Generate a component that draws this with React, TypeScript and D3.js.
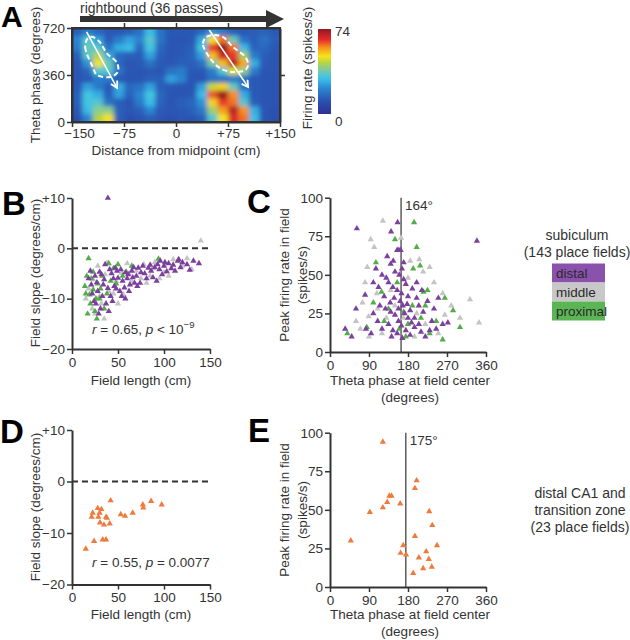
import React, { useRef, useEffect } from 'react';
import * as d3 from 'd3';

const W = 630;
const H = 640;
const FONT = '"Liberation Sans", Arial, Helvetica, sans-serif';
const INK = '#333';

// ---- Panel A: firing-rate map (rows from 690° down to 30°, 60° each; columns 15 cm each)
const heatColCenters = [-142.5, -127.5, -112.5, -97.5, -82.5, -67.5, -52.5, -37.5, -22.5, -7.5,
  7.5, 22.5, 37.5, 52.5, 67.5, 82.5, 97.5, 112.5, 127.5, 142.5];
const heatRowCenters = [690, 630, 570, 510, 450, 390, 330, 270, 210, 150, 90, 30];
const heatRows = [
  [14, 20, 16, 13, 13, 14, 18, 30, 18, 13, 13, 13, 16, 24, 20, 14, 13, 14, 15, 13],
  [22, 34, 26, 14, 20, 26, 22, 34, 18, 12, 12, 13, 28, 50, 60, 36, 18, 14, 18, 14],
  [20, 36, 34, 18, 28, 30, 16, 32, 16, 12, 13, 14, 32, 64, 74, 60, 30, 15, 16, 13],
  [14, 34, 44, 28, 16, 14, 14, 26, 14, 12, 13, 15, 26, 54, 68, 64, 42, 20, 14, 12],
  [12, 24, 50, 36, 16, 12, 13, 18, 13, 12, 14, 14, 18, 38, 54, 70, 56, 28, 13, 12],
  [12, 16, 34, 34, 18, 12, 12, 13, 12, 18, 20, 13, 13, 20, 34, 48, 40, 20, 12, 12],
  [12, 13, 20, 20, 13, 12, 12, 14, 14, 26, 22, 12, 12, 18, 18, 20, 18, 13, 12, 12],
  [13, 26, 20, 13, 28, 16, 18, 26, 14, 13, 12, 12, 26, 46, 52, 36, 18, 13, 12, 12],
  [14, 32, 28, 14, 26, 15, 22, 32, 16, 12, 12, 13, 30, 62, 74, 58, 28, 13, 12, 12],
  [14, 32, 34, 18, 14, 12, 20, 30, 15, 12, 14, 16, 24, 52, 64, 60, 34, 14, 12, 12],
  [12, 30, 40, 40, 14, 12, 14, 22, 13, 12, 13, 14, 20, 42, 57, 70, 58, 28, 12, 11],
  [11, 22, 44, 50, 14, 11, 12, 14, 12, 11, 12, 12, 14, 34, 50, 66, 60, 30, 12, 11],
];
const heatMax = 74;
const heatStops = [0, 0.15, 0.3, 0.42, 0.52, 0.6, 0.68, 0.78, 0.88, 1];
const heatColors = ['#2e3192', '#2a50b0', '#2a86d2', '#3cc3ea', '#7fcaa0', '#b5d444',
  '#f5e41c', '#f7941d', '#e5262b', '#8e1b20'];

const leftOutline: [number, number][] = [[-127, 643], [-131, 574], [-120, 421], [-114, 360], [-95, 345],
  [-84, 383], [-85, 452], [-100, 528], [-110, 613], [-120, 651]];
const rightOutline: [number, number][] = [[42, 643], [39, 590], [49, 490], [63, 414], [82, 383],
  [100, 398], [104, 437], [100, 498], [82, 575], [68, 651], [53, 666]];
const fieldArrows: [number, number, number, number][] = [[-129, 690, -85, 262], [48, 705, 104, 268]];

// ---- Panel B: field slope vs field length (subiculum)
const bDistal: [number, number][] = [
  [39, 10], [30, -4.7], [36, -3.2], [41, -4.2], [47, -3.9], [49, -4.5], [61, -5.2], [72, -3.9], [77, -3.5],
  [83, -3.9], [21, -7.2], [39, -7.9], [50, -5.9], [52, -8.5], [63, -7.2], [68, -6.9], [74, -6.9], [86, -4.5],
  [90, -3.8], [95, -4.2], [100, -3.5], [105, -3.0], [110, -3.3], [115, -2.5], [120, -2.8], [125, -3.2],
  [132, -2.5], [138, -3.0], [25, -5.5], [28, -8.5], [33, -9.5], [35, -6.2], [44, -10.5], [46, -7.5],
  [55, -6.5], [58, -4.8], [65, -4.5], [70, -5.5], [79, -5.0], [88, -5.8], [92, -6.5], [98, -5.2],
  [103, -4.6], [108, -4.0], [18, -6], [22, -9], [26, -11], [31, -12], [37, -11], [42, -9.5], [48, -8],
  [54, -9.5], [57, -7.8], [60, -6], [66, -5.8], [75, -4.8], [81, -6], [85, -3.3], [96, -2.5], [112, -4.5],
  [118, -3.8], [128, -4.3], [20, -4.5], [27, -6.8], [32, -5.2], [40, -12.5], [45, -6], [53, -4.2],
  [62, -8.5], [71, -7.5], [93, -3.2], [101, -2.8], [116, -2.2], [29, -13], [24, -10.5], [34, -7.2],
  [43, -5], [58, -10], [67, -3.8],
];
const bMiddle: [number, number][] = [
  [38, -2.9], [54, -4.9], [23, -6.2], [81, -6.9], [130, -4.2], [140, 1.5], [28, -3.5], [32, -11], [45, -9],
  [56, -9.2], [60, -3], [70, -4.5], [85, -5.5], [90, -2.8], [100, -4.8], [110, -2.2], [120, -3.5], [18, -8],
  [25, -13], [35, -14], [40, -8.5], [50, -11], [65, -6.5], [75, -6], [95, -6], [105, -5.5], [30, -9.5],
  [48, -6.5], [15, -10], [22, -12], [62, -5], [78, -3.2], [88, -4], [36, -5.2], [125, -2],
];
const bProximal: [number, number][] = [
  [18, -2], [23, -4.7], [50, -3.2], [59, -4.7], [94, -2.1], [23, -8.2], [19, -9.2], [30, -10], [15, -9],
  [20, -11], [25, -12.5], [17, -13], [28, -7], [33, -5.5], [38, -9], [42, -6.5], [27, -14], [45, -4],
  [55, -5.5], [65, -3.5], [35, -12], [31, -8], [21, -6], [16, -5.5], [14, -7.5], [48, -7], [26, -10], [40, -3],
];

// ---- Panel C: peak rate vs theta phase at field centre (subiculum)
const cDistal: [number, number][] = [
  [62, 80], [156, 84], [141, 78], [155, 66], [159, 66], [163, 66], [146, 59], [106, 54], [166, 54], [81, 37],
  [139, 32], [35, 15], [83, 15], [339, 72], [120, 50], [130, 48], [135, 45], [150, 52], [160, 50], [170, 47],
  [175, 44], [145, 42], [155, 40], [165, 38], [180, 36], [190, 41], [200, 35], [125, 36], [115, 30],
  [128, 28], [140, 26], [150, 24], [158, 28], [168, 30], [172, 25], [185, 27], [195, 22], [205, 30],
  [215, 26], [225, 33], [235, 20], [245, 15], [260, 18], [272, 19], [110, 20], [120, 15], [135, 18],
  [145, 14], [155, 12], [165, 17], [175, 14], [185, 11], [195, 16], [210, 13], [220, 10], [230, 14],
  [100, 25], [95, 12], [60, 28], [50, 10], [148, 35], [162, 33], [178, 31], [188, 19], [200, 45], [212, 40],
  [240, 28], [250, 35], [132, 62], [140, 57], [170, 58], [100, 45], [112, 42], [158, 20], [167, 9], [180, 22],
  [142, 10], [205, 18],
];
const cMiddle: [number, number][] = [
  [122, 85], [94, 73], [164, 74], [102, 68], [86, 55], [185, 59], [206, 60], [81, 45], [108, 38], [89, 23],
  [323, 34], [344, 19], [60, 20], [70, 15], [110, 28], [130, 22], [150, 30], [170, 22], [200, 25], [220, 18],
  [240, 45], [260, 38], [280, 30], [300, 22], [120, 12], [180, 48], [215, 52], [250, 12], [90, 10], [140, 40],
  [75, 32], [195, 10], [230, 55], [265, 24],
];
const cProximal: [number, number][] = [
  [194, 84], [150, 73], [200, 68], [106, 58], [192, 54], [208, 56], [119, 39], [216, 39], [40, 12], [85, 16],
  [284, 27], [225, 40], [170, 26], [180, 18], [210, 22], [245, 20], [135, 28], [160, 15], [190, 30], [230, 12],
  [260, 8], [300, 16], [125, 20], [155, 45], [175, 10], [220, 30], [100, 32], [265, 35],
];
const cMeanPhase = 164;

// ---- Panel D / E: distal CA1 and transition zone
const dPoints: [number, number][] = [
  [42, -3.7], [22.5, -6.1], [21.4, -6.9], [28, -5.2], [32, -5.4], [30, -6.1], [28.6, -6.9], [37, -6.9],
  [38, -7.1], [30.4, -8.0], [34.8, -8.4], [41, -8.2], [53, -6.4], [57.6, -6.7], [66, -6.1], [77, -4.5],
  [77.5, -5.1], [86, -3.8], [97.5, -4.5], [24, -11.6], [33.4, -11.3], [37, -11.3], [15, -13.1],
];
const ePoints: [number, number][] = [
  [122, 94], [200, 69], [196, 64], [142, 59], [137, 59], [132, 55], [162, 54], [122, 51.5], [92, 48.5],
  [48, 30], [196, 33], [169, 27], [163, 22], [175.5, 21], [222, 23], [229, 49], [236, 40], [247, 27],
  [235, 13], [215, 12], [192, 9], [228, 18], [205, 19],
];
const eMeanPhase = 175;

const slopeTicks = [10, 0, -10, -20];
const slopeLabels = ['+10', '0', '\u221210', '\u221220'];
const lengthTicks = [0, 50, 100, 150];
const phaseTicks = [0, 90, 180, 270, 360];
const rateTicks = [25, 50, 75, 100];
const distTicks = [-150, -75, 0, 75, 150];
const distLabels = ['\u2212150', '\u221275', '0', '+75', '+150'];
const thetaTicks = [0, 360, 720];

const PURPLE = '#7b3f9e';
const GRAY = '#c4c4c4';
const GREEN = '#52ad48';
const ORANGE = '#ef7a3c';

export default function App() {
  const svgRef = useRef<SVGSVGElement>(null);

  useEffect(() => {
    document.body.style.margin = '0';
    const svg = d3.select(svgRef.current);
    svg.selectAll('*').remove();
    const defs = svg.append('defs');

    const styleAxis = (g: any, fs = 13.5) => {
      g.attr('font-family', FONT);
      g.select('.domain').attr('stroke', INK).attr('stroke-width', 2);
      g.selectAll('.tick line').attr('stroke', INK).attr('stroke-width', 1.5);
      g.selectAll('.tick text').attr('fill', INK).attr('font-size', fs).attr('font-family', FONT);
    };

    const text = (x: number, y: number, s: string, opts: any = {}) => {
      const t = svg.append('text')
        .attr('x', x).attr('y', y)
        .attr('font-family', FONT)
        .attr('font-size', opts.size || 13.5)
        .attr('fill', opts.fill || INK)
        .attr('text-anchor', opts.anchor || 'start')
        .text(s);
      if (opts.weight) t.attr('font-weight', opts.weight);
      return t;
    };
    const vtext = (x: number, y: number, s: string, size = 13.5) => {
      svg.append('text')
        .attr('transform', `translate(${x},${y}) rotate(-90)`)
        .attr('dy', '0.35em')
        .attr('text-anchor', 'middle')
        .attr('font-family', FONT)
        .attr('font-size', size)
        .attr('fill', INK)
        .text(s);
    };
    const letter = (x: number, y: number, s: string, size = 33) =>
      text(x, y, s, { size, weight: 'bold', fill: '#000' });

    const tri = d3.symbol().type(d3.symbolTriangle).size(17)();

    // ================= Panel A =================
    const xA = d3.scaleLinear().domain([-150, 150]).range([72, 280]);
    const yA = d3.scaleLinear().domain([0, 720]).range([122, 28]);
    const heatColor = d3.scaleLinear<string>()
      .domain(heatStops.map(s => s * heatMax))
      .range(heatColors)
      .clamp(true);

    defs.append('clipPath').attr('id', 'heatClip')
      .append('rect').attr('x', 72).attr('y', 28).attr('width', 208).attr('height', 94);
    const blur = defs.append('filter').attr('id', 'heatBlur')
      .attr('x', '-10%').attr('y', '-10%').attr('width', '120%').attr('height', '120%');
    blur.append('feGaussianBlur').attr('stdDeviation', '2.8 2.3');

    const heatG = svg.append('g').attr('clip-path', 'url(#heatClip)')
      .append('g').attr('filter', 'url(#heatBlur)');
    const nR = heatRows.length;
    const nC = heatColCenters.length;
    heatRows.forEach((row, ri) => {
      row.forEach((v, ci) => {
        const cx = heatColCenters[ci];
        const cy = heatRowCenters[ri];
        let x0 = xA(cx - 7.5), x1 = xA(cx + 7.5);
        let y0 = yA(cy + 30), y1 = yA(cy - 30);
        if (ci === 0) x0 -= 14;
        if (ci === nC - 1) x1 += 14;
        if (ri === 0) y0 -= 14;
        if (ri === nR - 1) y1 += 14;
        heatG.append('rect')
          .attr('x', x0).attr('y', y0)
          .attr('width', x1 - x0 + 0.6).attr('height', y1 - y0 + 0.6)
          .attr('fill', heatColor(v));
      });
    });

    // field outlines and phase-precession arrows
    const outline = d3.line<[number, number]>()
      .x(d => xA(d[0])).y(d => yA(d[1]))
      .curve(d3.curveCatmullRomClosed);
    [leftOutline, rightOutline].forEach(pts => {
      svg.append('path')
        .attr('d', outline(pts))
        .attr('fill', 'none')
        .attr('stroke', '#fff')
        .attr('stroke-width', 2)
        .attr('stroke-dasharray', '5,3');
    });
    defs.append('marker').attr('id', 'chev')
      .attr('viewBox', '0 0 10 10').attr('refX', 8).attr('refY', 5)
      .attr('markerWidth', 9).attr('markerHeight', 9)
      .attr('markerUnits', 'userSpaceOnUse')
      .attr('orient', 'auto')
      .append('path').attr('d', 'M1,1 L8,5 L1,9')
      .attr('fill', 'none').attr('stroke', '#fff').attr('stroke-width', 2);
    fieldArrows.forEach(([a, b, c, d]) => {
      svg.append('line')
        .attr('x1', xA(a)).attr('y1', yA(b)).attr('x2', xA(c)).attr('y2', yA(d))
        .attr('stroke', '#fff').attr('stroke-width', 1.5)
        .attr('marker-end', 'url(#chev)');
    });

    // frame + axes
    svg.append('rect').attr('x', 72).attr('y', 28).attr('width', 208).attr('height', 94)
      .attr('fill', 'none').attr('stroke', INK).attr('stroke-width', 2);
    const aLeft = svg.append('g').attr('transform', 'translate(72,0)')
      .call(d3.axisLeft(yA).tickValues(thetaTicks).tickFormat(d => String(d)).tickSize(5).tickSizeOuter(0).tickPadding(2));
    styleAxis(aLeft);
    const aBottom = svg.append('g').attr('transform', 'translate(0,122)')
      .call(d3.axisBottom(xA).tickValues(distTicks).tickFormat((d, i) => distLabels[i]).tickSize(5).tickSizeOuter(0).tickPadding(1));
    styleAxis(aBottom);
    aBottom.selectAll('.tick text').attr('dx', (d: any) => (d === -150 ? 7 : 0));
    const aTop = svg.append('g').attr('transform', 'translate(0,28)')
      .call(d3.axisTop(xA).tickValues([-75, 0, 75]).tickFormat(() => '').tickSize(5).tickSizeOuter(0));
    styleAxis(aTop);
    const aRight = svg.append('g').attr('transform', 'translate(280,0)')
      .call(d3.axisRight(yA).tickValues([360]).tickFormat(() => '').tickSize(5).tickSizeOuter(0));
    styleAxis(aRight);

    vtext(35, 75, 'Theta phase (degrees)');
    text(176, 155, 'Distance from midpoint (cm)', { anchor: 'middle' });

    // direction arrow
    text(80, 13, 'rightbound (36 passes)', { size: 14 });
    svg.append('line').attr('x1', 80).attr('x2', 268).attr('y1', 19).attr('y2', 19)
      .attr('stroke', INK).attr('stroke-width', 6);
    svg.append('path').attr('d', 'M266,10 L284,19 L266,28 Z').attr('fill', INK);

    // colour bar
    const grad = defs.append('linearGradient').attr('id', 'cbar')
      .attr('x1', '0%').attr('y1', '100%').attr('x2', '0%').attr('y2', '0%');
    heatStops.forEach((s, i) => {
      grad.append('stop').attr('offset', `${s * 100}%`).attr('stop-color', heatColors[i]);
    });
    svg.append('rect').attr('x', 318).attr('y', 29).attr('width', 13).attr('height', 85)
      .attr('fill', 'url(#cbar)');
    text(335, 36, '74');
    text(335, 126, '0');
    vtext(307, 68, 'Firing rate (spikes/s)');

    letter(1, 27, 'A', 30);

    // ================= scatter helper =================
    const scatterAxes = (x: any, y: any, xt: number[], xl: string[], yt: number[], yl: string[]) => {
      const [x0] = x.range();
      const [y0] = y.range();
      const gx = svg.append('g').attr('transform', `translate(0,${y0})`)
        .call(d3.axisBottom(x).tickValues(xt).tickFormat((d: any, i: number) => xl[i]).tickSize(5).tickSizeOuter(0).tickPadding(3));
      styleAxis(gx);
      const gy = svg.append('g').attr('transform', `translate(${x0},0)`)
        .call(d3.axisLeft(y).tickValues(yt).tickFormat((d: any, i: number) => yl[i]).tickSize(5).tickSizeOuter(0).tickPadding(2));
      styleAxis(gy);
    };
    const dots = (x: any, y: any, pts: [number, number][], color: string) => {
      svg.append('g').selectAll('path').data(pts).join('path')
        .attr('d', tri)
        .attr('transform', d => `translate(${x(d[0])},${y(d[1])})`)
        .attr('fill', color);
    };
    const zeroLine = (x: any, y: any) => {
      svg.append('line')
        .attr('x1', x(0)).attr('x2', x(152))
        .attr('y1', y(0)).attr('y2', y(0))
        .attr('stroke', INK).attr('stroke-width', 2).attr('stroke-dasharray', '6,4');
    };
    const stat = (x: number, y: number, rv: string, rest: string, sup?: string) => {
      const t = svg.append('text').attr('x', x).attr('y', y)
        .attr('font-family', FONT).attr('font-size', 13.5).attr('fill', INK);
      t.append('tspan').attr('font-style', 'italic').text('r');
      t.append('tspan').text(` = ${rv}, `);
      t.append('tspan').attr('font-style', 'italic').text('p');
      t.append('tspan').text(rest);
      if (sup) t.append('tspan').attr('font-size', 9.5).attr('dy', -6).text(sup);
    };
    const meanLine = (x: any, y: any, phase: number) => {
      svg.append('line')
        .attr('x1', x(phase)).attr('x2', x(phase))
        .attr('y1', y(100)).attr('y2', y(0))
        .attr('stroke', INK).attr('stroke-width', 1.2);
      text(x(phase) + 4, y(100) + 12, `${phase}\u00b0`);
    };

    // ================= Panel B =================
    const xB = d3.scaleLinear().domain([0, 150]).range([72, 210]);
    const yB = d3.scaleLinear().domain([-20, 10]).range([349, 198]);
    zeroLine(xB, yB);
    dots(xB, yB, bMiddle, GRAY);
    dots(xB, yB, bProximal, GREEN);
    dots(xB, yB, bDistal, PURPLE);
    scatterAxes(xB, yB, lengthTicks, lengthTicks.map(String), slopeTicks, slopeLabels);
    vtext(35, 273, 'Field slope (degrees/cm)');
    text(141, 385, 'Field length (cm)', { anchor: 'middle' });
    stat(92, 334, '0.65', ' < 10', '\u22129');
    letter(2, 215, 'B');

    // ================= Panel C =================
    const xC = d3.scaleLinear().domain([0, 360]).range([330, 486]);
    const yC = d3.scaleLinear().domain([0, 100]).range([352, 197.7]);
    meanLine(xC, yC, cMeanPhase);
    dots(xC, yC, cMiddle, GRAY);
    dots(xC, yC, cProximal, GREEN);
    dots(xC, yC, cDistal, PURPLE);
    scatterAxes(xC, yC, phaseTicks, phaseTicks.map(String), [0, ...rateTicks], ['0', ...rateTicks.map(String)]);
    vtext(284, 275, 'Peak firing rate in field');
    vtext(302, 275, '(spikes/s)');
    text(410, 385, 'Theta phase at field center', { anchor: 'middle' });
    text(410, 402, '(degrees)', { anchor: 'middle' });
    letter(247, 213, 'C');

    // legend
    text(577, 240, 'subiculum', { anchor: 'middle', size: 14 });
    text(577, 257, '(143 place fields)', { anchor: 'middle', size: 14 });
    const legend = [['distal', '#8a52ad'], ['middle', '#c8c8c8'], ['proximal', '#5cb555']];
    legend.forEach(([label, color], i) => {
      svg.append('rect').attr('x', 552).attr('y', 263.5 + i * 19).attr('width', 53).attr('height', 19)
        .attr('fill', color);
      text(556, 278 + i * 19, label, { size: 13.5, fill: '#2a2a2a' });
    });

    // ================= Panel D =================
    const xD = d3.scaleLinear().domain([0, 150]).range([72, 210]);
    const yD = d3.scaleLinear().domain([-20, 10]).range([584.5, 430]);
    zeroLine(xD, yD);
    dots(xD, yD, dPoints, ORANGE);
    scatterAxes(xD, yD, lengthTicks, lengthTicks.map(String), slopeTicks, slopeLabels);
    vtext(35, 507, 'Field slope (degrees/cm)');
    text(141, 619, 'Field length (cm)', { anchor: 'middle' });
    stat(92, 567, '0.55', ' = 0.0077');
    letter(0, 443, 'D');

    // ================= Panel E =================
    const xE = d3.scaleLinear().domain([0, 360]).range([330, 486]);
    const yE = d3.scaleLinear().domain([0, 100]).range([587, 432.7]);
    meanLine(xE, yE, eMeanPhase);
    dots(xE, yE, ePoints, ORANGE);
    scatterAxes(xE, yE, phaseTicks, phaseTicks.map(String), [0, ...rateTicks], ['0', ...rateTicks.map(String)]);
    vtext(284, 510, 'Peak firing rate in field');
    vtext(302, 510, '(spikes/s)');
    text(410, 619, 'Theta phase at field center', { anchor: 'middle' });
    text(410, 636, '(degrees)', { anchor: 'middle' });
    letter(248, 442, 'E');

    text(580, 498, 'distal CA1 and', { anchor: 'middle', size: 14 });
    text(580, 515, 'transition zone', { anchor: 'middle', size: 14 });
    text(580, 532, '(23 place fields)', { anchor: 'middle', size: 14 });
  }, []);

  return <svg ref={svgRef} width={W} height={H} style={{ display: 'block', background: '#fff' }} />;
}
